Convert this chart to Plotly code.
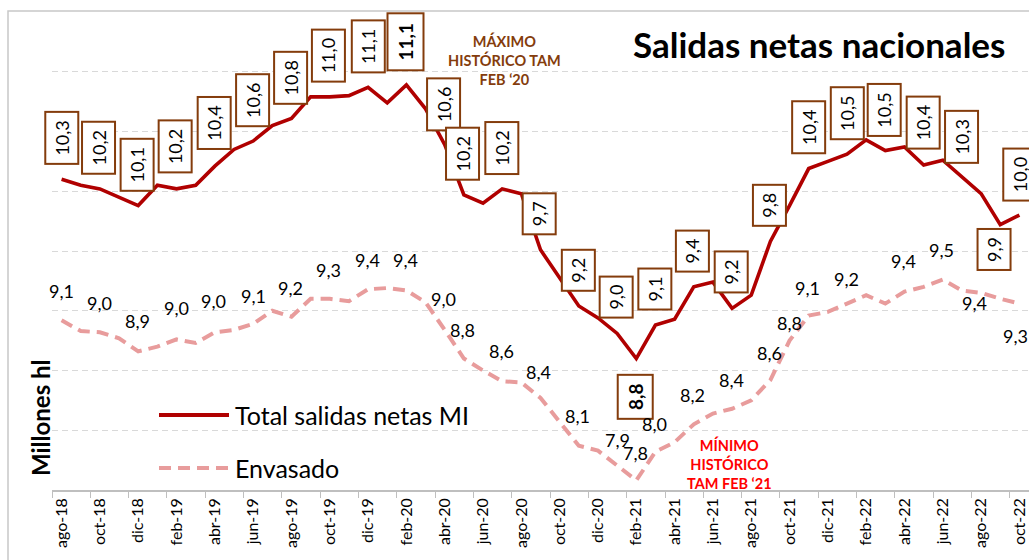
import plotly.graph_objects as go

# ---------------- data ----------------
months = ["ago-18", "sep-18", "oct-18", "nov-18", "dic-18",
          "ene-19", "feb-19", "mar-19", "abr-19", "may-19", "jun-19", "jul-19", "ago-19", "sep-19", "oct-19", "nov-19", "dic-19",
          "ene-20", "feb-20", "mar-20", "abr-20", "may-20", "jun-20", "jul-20", "ago-20", "sep-20", "oct-20", "nov-20", "dic-20",
          "ene-21", "feb-21", "mar-21", "abr-21", "may-21", "jun-21", "jul-21", "ago-21", "sep-21", "oct-21", "nov-21", "dic-21",
          "ene-22", "feb-22", "mar-22", "abr-22", "may-22", "jun-22", "jul-22", "ago-22", "sep-22", "oct-22"]

total = [10.32, 10.27, 10.24, 10.17, 10.10, 10.27, 10.24, 10.27, 10.43, 10.57,
         10.64, 10.77, 10.83, 11.01, 11.01, 11.02, 11.09, 10.96, 11.11, 10.91,
         10.61, 10.19, 10.12, 10.24, 10.20, 9.73, 9.49, 9.26, 9.16, 9.03,
         8.82, 9.10, 9.15, 9.42, 9.46, 9.24, 9.35, 9.80, 10.10, 10.41,
         10.47, 10.53, 10.65, 10.56, 10.59, 10.44, 10.48, 10.34, 10.20, 9.94,
         10.02]

envasado = [9.14, 9.05, 9.04, 8.99, 8.88, 8.92, 8.98, 8.95, 9.04, 9.06,
            9.11, 9.22, 9.17, 9.32, 9.32, 9.30, 9.40, 9.41, 9.39, 9.29,
            9.06, 8.82, 8.72, 8.63, 8.62, 8.49, 8.29, 8.09, 8.05, 7.93,
            7.80, 8.04, 8.12, 8.27, 8.36, 8.40, 8.47, 8.64, 8.97, 9.18,
            9.21, 9.28, 9.35, 9.28, 9.38, 9.42, 9.48, 9.39, 9.37, 9.32,
            9.28]

tick_labels = months[::2]

total_label_idx = [0, 2, 4, 6, 8, 10, 12, 14, 16, 18, 20, 21, 23, 25, 27, 29, 30, 31,
                   33, 35, 37, 39, 41, 43, 45, 47, 49, 50]
total_label_text = ["10,3", "10,2", "10,1", "10,2", "10,4", "10,6", "10,8", "11,0", "11,1", "11,1",
                    "10,6", "10,2", "10,2", "9,7", "9,2", "9,0", "8,8", "9,1",
                    "9,4", "9,2", "9,8", "10,4", "10,5", "10,5", "10,4", "10,3", "9,9", "10,0"]

env_label_idx = [0, 2, 4, 6, 8, 10, 12, 14, 16, 18, 20, 21, 23, 25, 27, 29, 30, 31,
                 33, 35, 37, 38, 39, 41, 44, 46, 48, 50]
env_label_text = ["9,1", "9,0", "8,9", "9,0", "9,0", "9,1", "9,2", "9,3", "9,4", "9,4",
                  "9,0", "8,8", "8,6", "8,4", "8,1", "7,9", "7,8", "8,0",
                  "8,2", "8,4", "8,6", "8,8", "9,1", "9,2", "9,4", "9,5", "9,4", "9,3"]

# ---------------- placement / style ----------------
total_label_shift = [(0, 41), (-1, 41), (-1, 41), (-1, 42), (-1, 43), (-1, 41), (-1, 41), (-1, 41), (0, 41), (-1, 43),
                     (-1, 40), (-1, 41), (0, 41), (-1, 36), (0, 36), (-1, 36), (-1, -38), (-1, 36),
                     (-1, 36), (-1, 36), (-1, 36), (0, 41), (0, 41), (-1, 41), (0, 42), (0, 40), (-6, -25), (0, 41)]
total_label_bold = {9, 16}

env_label_shift = [(0, 29), (0, 29), (-1, 30), (0, 31), (-1, 31), (0, 28), (-1, 29), (-1, 29), (-1, 29), (-1, 30),
                   (-1, 31), (-1, 29), (-1, 30), (-2, 26), (-1, 30), (0, 25), (-1, 27), (-1, 28),
                   (-1, 29), (-1, 29), (-1, 27), (0, 18), (-1, 28), (-1, 25), (-1, 31), (-1, 30), (-7, -10), (-4, -32)]

FONT = "Lato"
RED = "#B00000"
PINK = "#E89C9C"
BROWN = "#843C0C"

L, R, T, B = 52, 0, 12, 70
W, H = 1029, 560
PW, PH = W - L - R, H - T - B


def px(x):
    return (x - L) / PW


def py(y):
    return (H - B - y) / PH


fig = go.Figure()
fig.add_trace(go.Scatter(x=months, y=envasado, mode="lines", name="Envasado",
                         line=dict(color=PINK, width=4, dash="12px,7px"), showlegend=False))
fig.add_trace(go.Scatter(x=months, y=total, mode="lines", name="Total salidas netas MI",
                         line=dict(color=RED, width=3.6), showlegend=False))

annotations = []
for k, (i, txt) in enumerate(zip(total_label_idx, total_label_text)):
    dx, dy = total_label_shift[k]
    bold = k in total_label_bold
    n = len(txt)
    if bold:
        w, h = (55, 34) if n == 4 else (42, 33)
    else:
        w, h = (50, 31) if n == 4 else (39, 31)
    annotations.append(dict(
        x=i, y=total[i], xref="x", yref="y", showarrow=False,
        xanchor="center", yanchor="middle",
        text=f"<b>{txt}</b>" if bold else txt, textangle=-90,
        xshift=dx, yshift=dy, width=w, height=h,
        bgcolor="white", bordercolor=BROWN, borderwidth=2, borderpad=0,
        font=dict(family=FONT, size=19 if bold else 18, color="black")))

for k, (i, txt) in enumerate(zip(env_label_idx, env_label_text)):
    dx, dy = env_label_shift[k]
    annotations.append(dict(
        x=i, y=envasado[i], xref="x", yref="y", showarrow=False,
        xanchor="center", yanchor="middle",
        text=txt, xshift=dx, yshift=dy,
        font=dict(family=FONT, size=18, color="black")))


def note(xp, yp, text, size, color, angle=0, xanchor="center", bold=False):
    return dict(x=px(xp), y=py(yp), xref="paper", yref="paper", showarrow=False,
                xanchor=xanchor, yanchor="middle", textangle=angle, align="center",
                text=f"<b>{text}</b>" if bold else text,
                font=dict(family=FONT, size=size, color=color))


annotations += [
    note(504, 60, "MÁXIMO<br>HISTÓRICO TAM<br>FEB ‘20", 14.5, BROWN, bold=True),
    note(729, 464, "MÍNIMO<br>HISTÓRICO<br>TAM FEB ‘21", 14.5, "#FF0000", bold=True),
    note(819, 44, "Salidas netas nacionales", 35, "black", bold=True),
    note(40, 418, "Millones hl", 24, "black", angle=-90, bold=True),
    note(233, 415, "Total salidas netas MI", 25, "black", xanchor="left"),
    note(233, 468, "Envasado", 25, "black", xanchor="left"),
]

shapes = [
    dict(type="line", xref="paper", yref="paper", x0=px(159), x1=px(229), y0=py(415), y1=py(415),
         line=dict(color=RED, width=4)),
    dict(type="line", xref="paper", yref="paper", x0=px(159), x1=px(229), y0=py(468), y1=py(468),
         line=dict(color=PINK, width=4, dash="12px,7px")),
    dict(type="rect", xref="paper", yref="paper", x0=px(8), x1=px(1040), y0=py(570), y1=py(11),
         line=dict(color="#C8C8C8", width=1.5), fillcolor="rgba(0,0,0,0)", layer="below"),
]

fig.update_layout(
    width=W, height=H, autosize=False,
    margin=dict(l=L, r=R, t=T, b=B, autoexpand=False),
    paper_bgcolor="white", plot_bgcolor="white",
    showlegend=False,
    annotations=annotations, shapes=shapes,
    xaxis=dict(type="category", categoryorder="array", categoryarray=months,
               range=[-0.5, len(months) - 0.5], automargin=False,
               tickmode="array", tickvals=tick_labels, ticktext=tick_labels,
               tickson="boundaries", ticks="outside", ticklen=6, tickcolor="#BFBFBF",
               showline=True, linecolor="#BFBFBF", linewidth=1.5,
               tickangle=-90, tickfont=dict(family=FONT, size=16, color="black"),
               showgrid=False, zeroline=False),
    yaxis=dict(range=[7.72, 11.72], tick0=7.72, dtick=0.5, showticklabels=False,
               automargin=False,
               showgrid=True, gridcolor="#D9D9D9", griddash="6px,4px", gridwidth=1,
               zeroline=False, showline=False, ticks=""),
)

fig.write_html("out.html", config={"displayModeBar": False},
               post_script="document.body.style.margin='0';document.body.style.overflow='hidden';")
